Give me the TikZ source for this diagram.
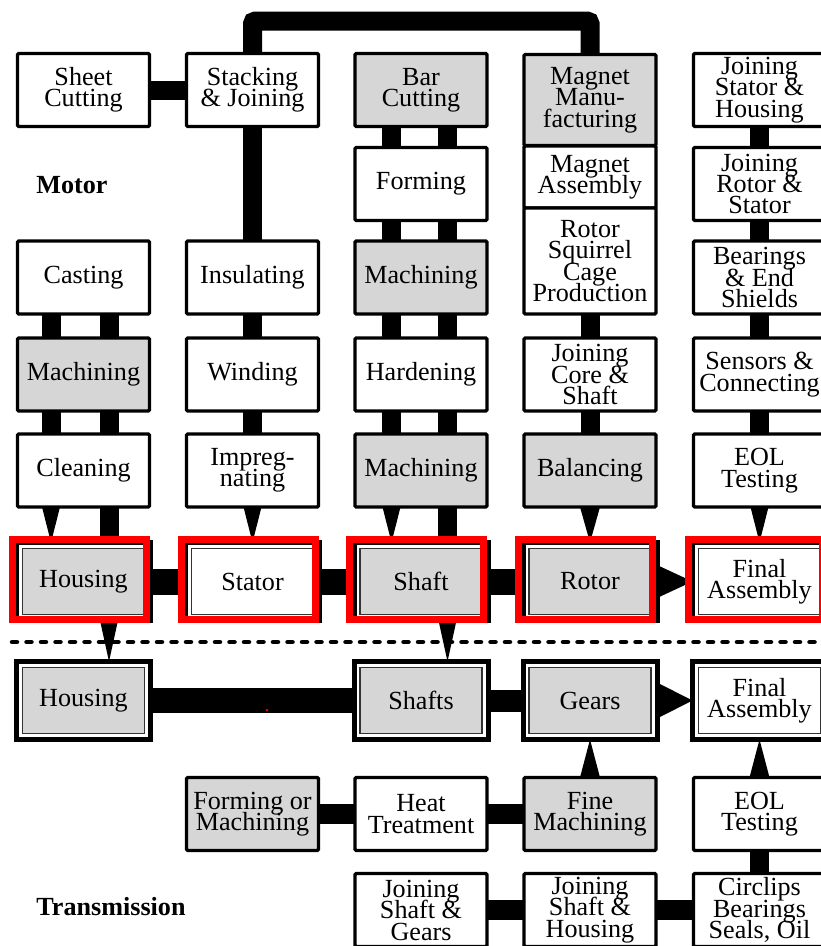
\documentclass[tikz,border=0pt]{standalone}
\usepackage{fontspec}
\setmainfont{Liberation Serif}
\usetikzlibrary{shadows}
\newdimen\px \px=0.75pt
\definecolor{boxgray}{RGB}{214,214,214}
\newcommand\bxfont{\fontsize{19.6pt}{16.1pt}\selectfont\lineskiplimit=-100pt\relax}
\pgfdeclarelayer{bg}
\pgfsetlayers{bg,main}
\begin{document}
\begin{tikzpicture}[x=0.75pt,y=-0.75pt,
  pbox/.style={draw=black, line width=3.3\px, rounded corners=1.2\px, fill=white,
    minimum width=132\px, minimum height=73\px, inner sep=0pt, outer sep=0pt,
    align=center, font=\bxfont},
  gbox/.style={pbox, fill=boxgray},
  mbox/.style={draw=black, line width=5\px, fill=white,
    minimum width=134\px, minimum height=78\px, inner sep=0pt, outer sep=0pt,
    align=center, font=\bxfont,
    drop shadow={shadow xshift=1.5\px, shadow yshift=-1.5\px, fill=black, opacity=1},
    path picture={\draw[line width=1.2\px, draw=black!80, fill=#1]
      ([xshift=6\px,yshift=6\px]path picture bounding box.south west) rectangle
      ([xshift=-6\px,yshift=-6\px]path picture bounding box.north east);}},
  mbox/.default=white,
  vbar/.style={draw=black, line width=19\px},
  redframe/.style={draw=red, line width=7\px},
  title/.style={font=\bxfont\bfseries, inner sep=0pt}
]
\useasboundingbox (0,0) rectangle (821,946);

% ---------------- motor process chain ----------------
\node[pbox] (sheet) at (83.5,90) {Sheet\\Cutting};
\node[pbox] (stack) at (252.5,90) {Stacking\\\& Joining};
\node[gbox] (barc)  at (421,90) {Bar\\Cutting};
\node[gbox, minimum height=91\px]  (magm) at (590,100) {Magnet\\Manu-\\facturing};
\node[pbox, minimum height=62\px]  (maga) at (590,177) {Magnet\\Assembly};
\node[pbox, minimum height=106\px] (rsq)  at (590,261) {Rotor\\Squirrel\\Cage\\Production};
\node[pbox] (jsh)   at (759.5,90) {Joining\\Stator \&\\Housing};

\node[pbox] (form)  at (421,184) {Forming};
\node[pbox] (jrs)   at (759.5,184) {Joining\\Rotor \&\\Stator};

\node[pbox] (cast)  at (83.5,277.5) {Casting};
\node[pbox] (insu)  at (252.5,277.5) {Insulating};
\node[gbox] (mach2) at (421,277.5) {Machining};
\node[pbox] (bear)  at (759.5,277.5) {Bearings\\\& End\\Shields};

\node[gbox] (mach1) at (83.5,374.5) {Machining};
\node[pbox] (wind)  at (252.5,374.5) {Winding};
\node[pbox] (hard)  at (421,374.5) {Hardening};
\node[pbox] (jcs)   at (590,374.5) {Joining\\Core \&\\Shaft};
\node[pbox] (sens)  at (759.5,374.5) {Sensors \&\\Connecting};

\node[pbox] (clean) at (83.5,470.5) {Cleaning};
\node[pbox] (impr)  at (252.5,470.5) {Impreg-\\nating};
\node[gbox] (mach3) at (421,470.5) {Machining};
\node[gbox] (bal)   at (590,470.5) {Balancing};
\node[pbox] (eol)   at (759.5,470.5) {EOL\\Testing};

% motor components
\node[mbox=boxgray] (mhous)  at (83.5,581.5) {Housing};
\node[mbox]         (mstat)  at (252.5,581.5) {Stator};
\node[mbox=boxgray] (mshaft) at (421,581.5) {Shaft};
\node[mbox=boxgray] (mrotor) at (590,581.5) {Rotor};
\node[mbox]         (mfinal) at (759.5,581.5) {Final\\Assembly};

% ---------------- transmission ----------------
\node[mbox=boxgray] (thous)   at (83.5,700.5) {Housing};
\node[mbox=boxgray] (tshafts) at (421,700.5) {Shafts};
\node[mbox=boxgray] (tgears)  at (590,700.5) {Gears};
\node[mbox]         (tfinal)  at (759.5,700.5) {Final\\Assembly};

\node[gbox] (fmach) at (252.5,814) {Forming or\\Machining};
\node[pbox] (heat)  at (421,814) {Heat\\Treatment};
\node[gbox] (fine)  at (590,814) {Fine\\Machining};
\node[pbox] (teol)  at (759.5,814) {EOL\\Testing};

\node[pbox] (jsg)  at (421,910) {Joining\\Shaft \&\\Gears};
\node[pbox] (jshh) at (590,910) {Joining\\Shaft \&\\Housing};
\node[pbox] (circ) at (759.5,910) {Circlips\\Bearings\\Seals, Oil};

\node[title] (motor) at (72,185) {Motor};
\node[title] (trans) at (111,907) {Transmission};

% highlighted motor components
\foreach \n in {mhous,mstat,mshaft,mrotor,mfinal}
  \draw[redframe] ([shift={(-4.5,-3.5)}]\n.north west) rectangle ([shift={(-4.5,-1.5)}]\n.south east);

% ---------------- connectors ----------------
\begin{pgfonlayer}{bg}
\fill[white] (0,0) rectangle (821,946);

\draw[vbar] (sheet.east) -- (stack.west);
\coordinate (looptop) at (0,21);
\draw[vbar, rounded corners=3\px] (stack.north) -- (stack.north |- looptop)
  -- (magm.north |- looptop) -- (magm.north);
\draw[vbar] (stack.south) -- (insu.north);

% housing column
\foreach \s in {-32.5,25.5} {
  \draw[vbar] ([shift={(\s,0)}]cast.south) -- ([shift={(\s,0)}]mach1.north);
  \draw[vbar] ([shift={(\s,0)}]mach1.south) -- ([shift={(\s,0)}]clean.north);
}
\draw[vbar] ([shift={(25.5,0)}]clean.south) -- ([shift={(25.5,0)}]mhous.north);
\fill ([shift={(-41.5,0)}]clean.south) -- ([shift={(-23.5,0)}]clean.south)
  -- ([shift={(-32.5,0)}]mhous.north) -- cycle;

% stator column
\draw[vbar] (insu.south) -- (wind.north);
\draw[vbar] (wind.south) -- (impr.north);
\fill ([shift={(-9,0)}]impr.south) -- ([shift={(9,0)}]impr.south) -- (mstat.north) -- cycle;

% shaft column
\foreach \s in {-29.5,26.5} {
  \draw[vbar] ([shift={(\s,0)}]barc.south) -- ([shift={(\s,0)}]form.north);
  \draw[vbar] ([shift={(\s,0)}]form.south) -- ([shift={(\s,0)}]mach2.north);
  \draw[vbar] ([shift={(\s,0)}]mach2.south) -- ([shift={(\s,0)}]hard.north);
  \draw[vbar] ([shift={(\s,0)}]hard.south) -- ([shift={(\s,0)}]mach3.north);
}
\draw[vbar] ([shift={(26.5,0)}]mach3.south) -- ([shift={(26.5,0)}]mshaft.north);
\fill ([shift={(-38.5,0)}]mach3.south) -- ([shift={(-20.5,0)}]mach3.south)
  -- ([shift={(-29.5,0)}]mshaft.north) -- cycle;

% rotor column
\draw[vbar] (rsq.south) -- (jcs.north);
\draw[vbar] (jcs.south) -- (bal.north);
\fill ([shift={(-10,0)}]bal.south) -- ([shift={(10,0)}]bal.south) -- (mrotor.north) -- cycle;

% final assembly column
\draw[vbar] (jsh.south) -- (jrs.north);
\draw[vbar] (jrs.south) -- (bear.north);
\draw[vbar] (bear.south) -- (sens.north);
\draw[vbar] (sens.south) -- (eol.north);
\fill ([shift={(-9,0)}]eol.south) -- ([shift={(9,0)}]eol.south) -- (mfinal.north) -- cycle;

% motor component row
\draw[line width=26\px] (mhous.east) -- (mstat.west);
\draw[line width=26\px] (mstat.east) -- (mshaft.west);
\draw[line width=26\px] (mshaft.east) -- (mrotor.west);
\fill ([shift={(0,-16.5)}]mrotor.east) -- ([shift={(0,16.5)}]mrotor.east) -- (mfinal.west) -- cycle;

% motor to transmission
\fill ([shift={(16.5,0)}]mhous.south) -- ([shift={(34.5,0)}]mhous.south)
  -- ([shift={(25.5,0)}]thous.north) -- cycle;
\fill ([shift={(17.5,0)}]mshaft.south) -- ([shift={(35.5,0)}]mshaft.south)
  -- ([shift={(26.5,0)}]tshafts.north) -- cycle;

% divider
\coordinate (dl) at (12,642);
\coordinate (dr) at (835,642);
\draw[line width=4.5\px, dash pattern=on 5\px off 9.5\px, line cap=round] (dl) -- (dr);

% transmission component row
\draw[line width=25\px] (thous.east) -- (tshafts.west);
\draw[line width=22\px] (tshafts.east) -- (tgears.west);
\fill ([shift={(0,-18)}]tgears.east) -- ([shift={(0,18)}]tgears.east) -- (tfinal.west) -- cycle;
\fill ([shift={(-10,0)}]fine.north) -- ([shift={(10,0)}]fine.north) -- (tgears.south) -- cycle;
\fill ([shift={(-10,0)}]teol.north) -- ([shift={(10,0)}]teol.north) -- (tfinal.south) -- cycle;

% transmission process chain
\draw[line width=20\px] (fmach.east) -- (heat.west);
\draw[line width=20\px] (heat.east) -- (fine.west);
\draw[line width=20\px] (jsg.east) -- (jshh.west);
\draw[line width=20\px] (jshh.east) -- (circ.west);
\draw[vbar] (teol.south) -- (circ.north);
\end{pgfonlayer}

\fill[red] (267,710) circle (1.3\px);
\end{tikzpicture}
\end{document}
